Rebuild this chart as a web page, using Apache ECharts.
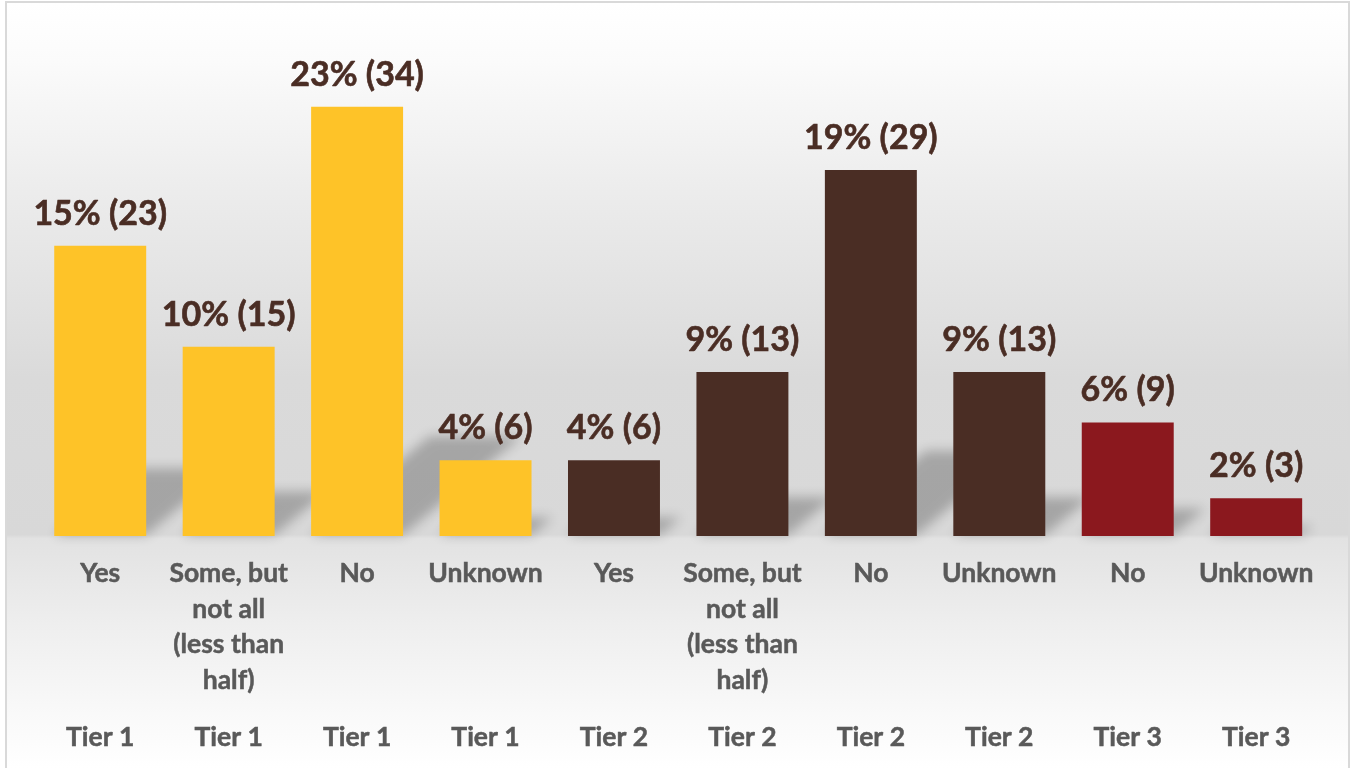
<!DOCTYPE html>
<html>
<head>
<meta charset="utf-8">
<script src="https://cdn.jsdelivr.net/npm/echarts@6/dist/echarts.min.js"></script>
<style>
  html, body { margin: 0; padding: 0; width: 1356px; height: 768px; overflow: hidden; background: #ffffff; }
  #frame {
    position: absolute; left: 5px; top: 1px; width: 1345px; height: 767px;
    box-sizing: border-box; border: 2px solid #d9d9d9; border-bottom: 0;
  }
  #chart { width: 100%; height: 100%; }
</style>
</head>
<body>
<div id="frame"><div id="chart"></div></div>
<script>
// Survey responses by tier: answer category, tier, respondent count and share
const categories = ['Yes', 'Some, but\nnot all\n(less than\nhalf)', 'No', 'Unknown',
                    'Yes', 'Some, but\nnot all\n(less than\nhalf)', 'No', 'Unknown',
                    'No', 'Unknown'];
const tiers = ['Tier 1', 'Tier 1', 'Tier 1', 'Tier 1',
               'Tier 2', 'Tier 2', 'Tier 2', 'Tier 2',
               'Tier 3', 'Tier 3'];
const counts = [23, 15, 34, 6, 6, 13, 29, 13, 9, 3];
const percents = [15, 10, 23, 4, 4, 9, 19, 9, 6, 2];
const tierColors = { 'Tier 1': '#FEC328', 'Tier 2': '#4A2D24', 'Tier 3': '#8B181E' };

const FONT = 'Lato, "Open Sans", sans-serif';
const BAR_RATIO = 0.716;

const chart = echarts.init(document.getElementById('chart'), null, { renderer: 'canvas' });

const barData = counts.map((v, i) => ({
  value: v,
  itemStyle: { color: tierColors[tiers[i]] }
}));

// Perspective shadow cast up and to the right behind each bar
function renderShadow(params, api) {
  const idx = api.value(0);
  const v = api.value(1);
  const base = api.coord([idx, 0]);
  const top = api.coord([idx, v]);
  const w = api.size([1, 0])[0] * BAR_RATIO;
  const h = base[1] - top[1];
  const hs = h * 0.23;
  const skew = hs * 1.2;
  const shift = 3000; // body drawn off-canvas, only its blurred shadow lands in place
  const x0 = base[0] - w / 2 - shift;
  const x1 = base[0] + w / 2 - shift;
  const y0 = base[1] - 1;
  return {
    type: 'polygon',
    shape: { points: [[x0, y0], [x1, y0], [x1 + skew, y0 - hs], [x0 + skew, y0 - hs]] },
    style: {
      fill: '#000',
      shadowColor: 'rgba(0,0,0,0.24)',
      shadowBlur: 12,
      shadowOffsetX: shift,
      shadowOffsetY: 0
    },
    silent: true
  };
}

const axisLabelStyle = {
  interval: 0, margin: 20,
  color: '#595959', fontFamily: FONT, fontWeight: 'bold', fontSize: 26.5,
  lineHeight: 35.5, align: 'center',
  textBorderColor: '#595959', textBorderWidth: 0.5
};

chart.setOption({
  backgroundColor: {
    type: 'linear', x: 0, y: 0, x2: 0, y2: 1,
    colorStops: [
      { offset: 0.0, color: '#ffffff' },
      { offset: 0.075, color: '#fbfbfb' },
      { offset: 0.26, color: '#ebebeb' },
      { offset: 0.49, color: '#dadada' },
      { offset: 0.695, color: '#d8d8d8' },
      { offset: 0.70, color: '#e2e2e2' },
      { offset: 0.81, color: '#eeeeee' },
      { offset: 0.94, color: '#fafafa' },
      { offset: 1.0, color: '#ffffff' }
    ]
  },
  animation: false,
  grid: { left: 29, top: 28, width: 1284.4, height: 505, containLabel: false },
  xAxis: [
    {
      type: 'category',
      data: categories,
      axisLine: { show: false },
      axisTick: { show: false },
      axisLabel: axisLabelStyle
    },
    {
      type: 'category',
      position: 'bottom',
      offset: 164,
      data: tiers,
      axisLine: { show: false },
      axisTick: { show: false },
      axisLabel: axisLabelStyle
    }
  ],
  yAxis: {
    type: 'value', min: 0, max: 40, show: false,
    splitLine: { show: false }
  },
  series: [
    {
      type: 'custom',
      xAxisIndex: 0,
      yAxisIndex: 0,
      clip: false,
      z: 1,
      renderItem: renderShadow,
      data: counts.map((v, i) => [i, v])
    },
    {
      type: 'bar',
      xAxisIndex: 0,
      yAxisIndex: 0,
      z: 2,
      barWidth: (BAR_RATIO * 100) + '%',
      data: barData,
      label: {
        show: true,
        position: 'top',
        distance: 12,
        color: '#4A2D24',
        textBorderColor: '#4A2D24',
        textBorderWidth: 0.6,
        fontFamily: FONT,
        fontWeight: 'bold',
        fontSize: 34,
        lineHeight: 40,
        formatter: p => percents[p.dataIndex] + '% (' + counts[p.dataIndex] + ')'
      }
    }
  ]
});
</script>
</body>
</html>
